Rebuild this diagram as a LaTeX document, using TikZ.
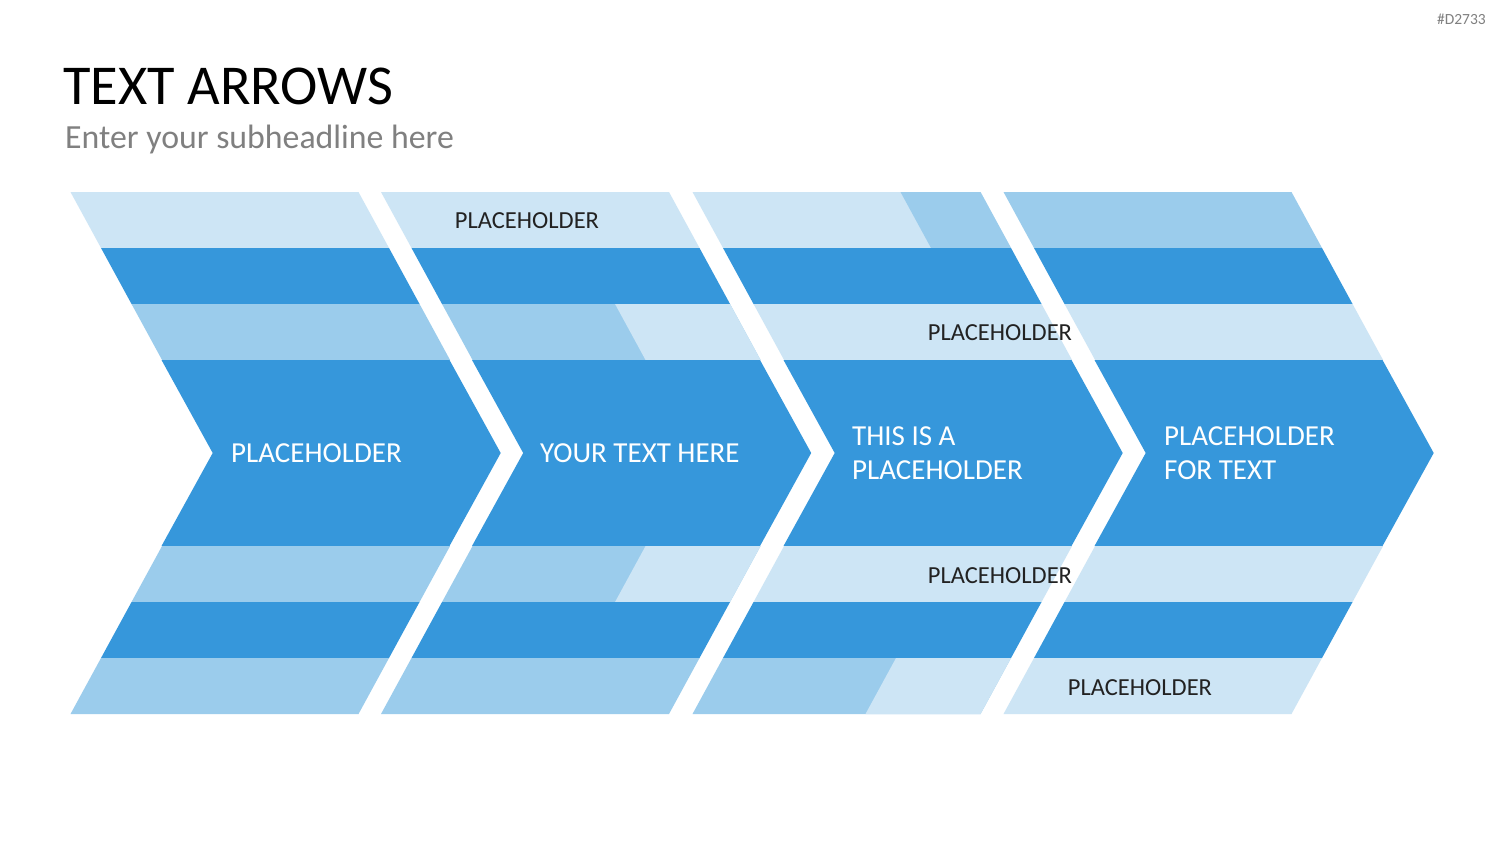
\documentclass[tikz,border=0pt]{standalone}
\usepackage{fontspec}
\setmainfont{Carlito}
\definecolor{dk}{HTML}{3697DB}
\definecolor{md}{HTML}{9BCCEC}
\definecolor{lt}{HTML}{CDE5F5}
\definecolor{lbl}{HTML}{222222}
\definecolor{sub}{HTML}{808080}
% band segment: L, y1, y2, d1, d2, colour
\newcommand\chevseg[6]{\fill[#6] ({#1+#4+0.545*(261-abs(#2-453))},#2) -- ({#1+#5+0.545*(261-abs(#2-453))},#2) -- ({#1+#5+0.545*(261-abs(#3-453))},#3) -- ({#1+#4+0.545*(261-abs(#3-453))},#3) -- cycle;}
\newcommand\chevmid[1]{\fill[dk] ({#1+0.545*167},360) -- ({#1+288+0.545*167},360) -- ({#1+288+142.2},453) -- ({#1+288+0.545*167},546) -- ({#1+0.545*167},546) -- ({#1+142.2},453) -- cycle;}
\begin{document}
\begin{tikzpicture}[x=1pt,y=-1pt,
  wt/.style={text=white,inner sep=0pt,font=\fontsize{29}{34}\selectfont,align=left},
  bk/.style={text=lbl,inner sep=0pt,font=\fontsize{24.5}{28}\selectfont}]
\useasboundingbox[fill=white] (0,0) rectangle (1500,844);
% chevron 1
\chevseg{70.5}{192}{248}{0}{288}{lt}
\chevseg{70.5}{248}{304}{0}{288}{dk}
\chevseg{70.5}{304}{360}{0}{288}{md}
\chevmid{70.5}
\chevseg{70.5}{546}{602}{0}{288}{md}
\chevseg{70.5}{602}{658}{0}{288}{dk}
\chevseg{70.5}{658}{714}{0}{288}{md}
% chevron 2
\chevseg{381}{192}{248}{0}{288}{lt}
\chevseg{381}{248}{304}{0}{288}{dk}
\chevseg{381}{304}{360}{0}{288}{md}
\chevseg{381}{304}{360}{173}{288}{lt}
\chevmid{381}
\chevseg{381}{546}{602}{0}{288}{md}
\chevseg{381}{546}{602}{173}{288}{lt}
\chevseg{381}{602}{658}{0}{288}{dk}
\chevseg{381}{658}{714}{0}{288}{md}
% chevron 3
\chevseg{692.5}{192}{248}{0}{288}{lt}
\chevseg{692.5}{192}{248}{208}{288}{md}
\chevseg{692.5}{248}{304}{0}{288}{dk}
\chevseg{692.5}{304}{360}{0}{288}{lt}
\chevmid{692.5}
\chevseg{692.5}{546}{602}{0}{288}{lt}
\chevseg{692.5}{602}{658}{0}{288}{dk}
\chevseg{692.5}{658}{714}{0}{288}{md}
\chevseg{692.5}{658}{714}{173}{288}{lt}
% chevron 4
\chevseg{1003.5}{192}{248}{0}{288}{md}
\chevseg{1003.5}{248}{304}{0}{288}{dk}
\chevseg{1003.5}{304}{360}{0}{288}{lt}
\chevmid{1003.5}
\chevseg{1003.5}{546}{602}{0}{288}{lt}
\chevseg{1003.5}{602}{658}{0}{288}{dk}
\chevseg{1003.5}{658}{714}{0}{288}{lt}
% texts
\node[anchor=base west,inner sep=0pt,font=\fontsize{56.3}{60}\selectfont] (title) at (63,104) {TEXT ARROWS};
\node[anchor=base west,inner sep=0pt,text=sub,font=\fontsize{33.8}{38}\selectfont] (subtitle) at (65,148) {Enter your subheadline here};
\node[anchor=base east,inner sep=0pt,text=sub,font=\fontsize{15.5}{17}\selectfont] (code) at (1486,24) {\#D2733};
\node[wt,anchor=west] (t1) at (231,453) {PLACEHOLDER};
\node[wt,anchor=west] (t2) at (540,453) {YOUR TEXT HERE};
\node[wt,anchor=west] (t3) at (852,453) {THIS IS A\\PLACEHOLDER};
\node[wt,anchor=west] (t4) at (1164,453) {PLACEHOLDER\\FOR TEXT};
\node[bk] (l1) at (527,221) {PLACEHOLDER};
\node[bk] (l2) at (1000,333) {PLACEHOLDER};
\node[bk] (l3) at (1000,576) {PLACEHOLDER};
\node[bk] (l4) at (1140,688) {PLACEHOLDER};
\end{tikzpicture}
\end{document}
